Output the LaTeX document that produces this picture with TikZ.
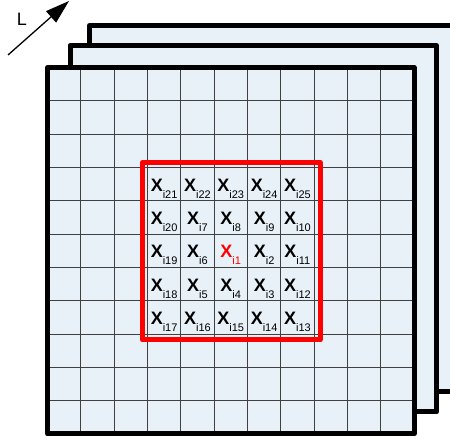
\documentclass[tikz,border=0pt]{standalone}
\usepackage{fontspec}
\setmainfont{Liberation Sans}
\usepackage{tikz}
\usetikzlibrary{arrows.meta}
\definecolor{sheet}{RGB}{232,241,248}
\newcommand{\xsub}[1]{{\bfseries X}\raisebox{-7pt}{\fontsize{11}{12}\selectfont #1}}

\begin{document}
\begin{tikzpicture}[x=1pt,y=1pt,line join=round]
\useasboundingbox (0,0) rectangle (450,441);
\clip (0,0) rectangle (450,441);
%back sheets
 \begin{scope}[every path/.style={fill=sheet,draw=black,line width=5pt}]
   \draw (89.5,49) rectangle (456,415.5);
   \draw (70,29) rectangle (436.5,395.5);
 \end{scope}
%front sheet with grid
 \begin{scope}[shift={(47.5,7)}]
   \fill[sheet] (0,0) rectangle (366.5,366.5);
   \draw[black!75, line width=0.9pt] (0,0) grid[step=33.32] (366.5,366.5);
   \draw[line width=5pt] (0,0) rectangle (366.5,366.5);
 \end{scope}
 \draw[red, line width=5pt] (142.5,101) rectangle (320,278.5);
 \begin{scope}[every node/.style={inner sep=0pt,anchor=base,font=\fontsize{18}{20}\selectfont}]
   \node (x21) at (164.1,249.9) {\xsub{i21}};
   \node (x22) at (197.4,249.9) {\xsub{i22}};
   \node (x23) at (230.7,249.9) {\xsub{i23}};
   \node (x24) at (264.1,249.9) {\xsub{i24}};
   \node (x25) at (297.4,249.9) {\xsub{i25}};
   \node (x20) at (164.1,216.6) {\xsub{i20}};
   \node (x7) at (197.4,216.6) {\xsub{i7}};
   \node (x8) at (230.7,216.6) {\xsub{i8}};
   \node (x9) at (264.1,216.6) {\xsub{i9}};
   \node (x10) at (297.4,216.6) {\xsub{i10}};
   \node (x19) at (164.1,183.3) {\xsub{i19}};
   \node (x6) at (197.4,183.3) {\xsub{i6}};
   \node (x1) [text=red] at (230.7,183.3) {\xsub{i1}};
   \node (x2) at (264.1,183.3) {\xsub{i2}};
   \node (x11) at (297.4,183.3) {\xsub{i11}};
   \node (x18) at (164.1,149.9) {\xsub{i18}};
   \node (x5) at (197.4,149.9) {\xsub{i5}};
   \node (x4) at (230.7,149.9) {\xsub{i4}};
   \node (x3) at (264.1,149.9) {\xsub{i3}};
   \node (x12) at (297.4,149.9) {\xsub{i12}};
   \node (x17) at (164.1,116.6) {\xsub{i17}};
   \node (x16) at (197.4,116.6) {\xsub{i16}};
   \node (x15) at (230.7,116.6) {\xsub{i15}};
   \node (x14) at (264.1,116.6) {\xsub{i14}};
   \node (x13) at (297.4,116.6) {\xsub{i13}};
 \end{scope}
%layer direction
 \coordinate (Lfrom) at (8,386);
 \coordinate (Lto) at (69,440);
 \draw[line width=1.3pt,-{Triangle[length=24pt,width=15pt]}] (Lfrom) -- (Lto);
 \node (Llab) [font=\fontsize{18}{20}\selectfont] at (22,422) {L};
\end{tikzpicture}
\end{document}
